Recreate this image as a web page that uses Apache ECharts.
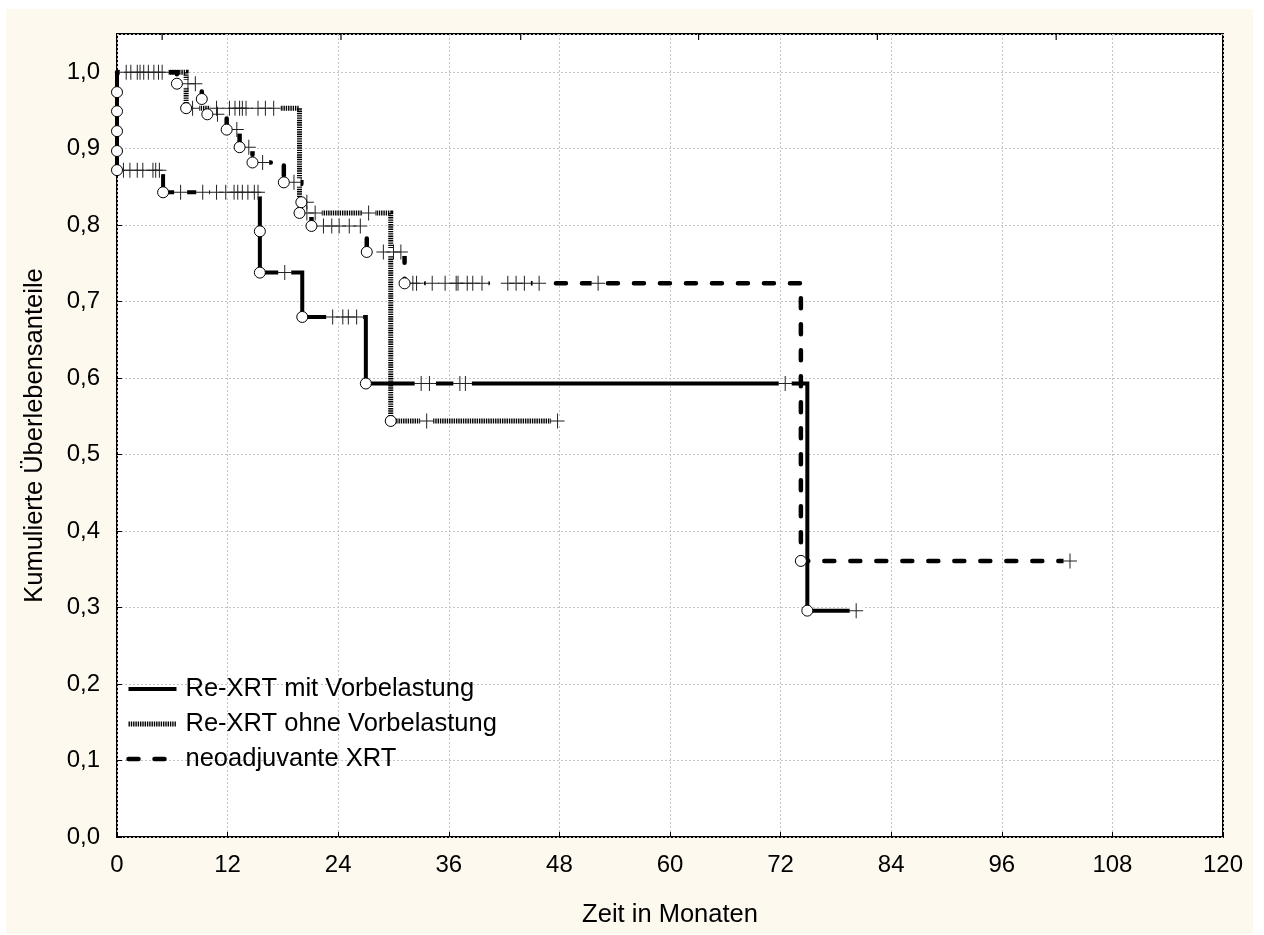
<!DOCTYPE html>
<html><head><meta charset="utf-8">
<script src="https://cdn.jsdelivr.net/npm/echarts@6/dist/echarts.min.js"></script>
<style>
html,body{margin:0;padding:0;background:#fff;}
#bg{position:absolute;left:6px;top:9px;width:1247px;height:925px;background:#fdf9ee;}
#chart{position:absolute;left:0;top:0;width:1264px;height:935px;}
</style></head><body>
<div id="bg"></div><div id="chart"></div>
<script>
// ---- data ----
const seriesNames = ['Re-XRT mit Vorbelastung', 'Re-XRT ohne Vorbelastung', 'neoadjuvante XRT'];
const xTitle = 'Zeit in Monaten';
const yTitle = 'Kumulierte Überlebensanteile';
const topTicks = [4.9, 24.3, 43.8, 63.1, 82.5, 101.9];

// events (circles): [month, survival after event]
const mitEvents = [[0,0.974],[0,0.949],[0,0.923],[0,0.897],[0,0.872],[5.0,0.843],[15.5,0.792],[15.5,0.738],[20.1,0.680],[27.0,0.593],[74.9,0.296]];
const mitCensored = [[0.7,0.872],[1.4,0.872],[2.2,0.872],[2.8,0.872],[3.9,0.872],[4.2,0.872],[4.6,0.872],
  [6.9,0.843],[9.3,0.843],[10.8,0.843],[11.8,0.843],[12.7,0.843],[13.1,0.843],[13.6,0.843],[14.2,0.843],[14.9,0.843],[15.3,0.843],
  [18.2,0.738],
  [23.4,0.680],[24.5,0.680],[25.1,0.680],[26.0,0.680],
  [33.0,0.593],[33.9,0.593],[37.2,0.593],[37.8,0.593],[72.5,0.593],
  [80.2,0.296]];

const ohneEvents = [[7.5,0.953],[19.8,0.816],[29.7,0.544]];
const ohneCensored = [[8.2,0.953],[10.8,0.953],[12.2,0.953],[12.8,0.953],[13.3,0.953],[13.6,0.953],[14.0,0.953],[15.3,0.953],[16.1,0.953],[17.0,0.953],
  [20.6,0.816],[21.5,0.816],[27.3,0.816],
  [33.6,0.544],[47.8,0.544]];

const neoEvents = [[6.5,0.985],[9.2,0.965],[9.8,0.945],[11.9,0.925],[13.3,0.902],[14.7,0.882],[18.1,0.856],[20.0,0.830],[21.1,0.799],[27.1,0.765],[31.2,0.724],[74.2,0.361]];
const neoCensored = [[1.0,1],[1.5,1],[2.2,1],[2.5,1],[2.9,1],[3.4,1],[4.0,1],[4.5,1],[4.9,1],
  [7.7,0.985],[8.5,0.985],
  [10.9,0.945],
  [13.0,0.925],
  [14.3,0.902],
  [15.8,0.882],
  [19.2,0.856],
  [20.6,0.830],
  [22.4,0.799],[23.3,0.799],[24.1,0.799],[25.2,0.799],[26.4,0.799],
  [28.9,0.765],[30.0,0.765],[30.8,0.765],
  [32.1,0.724],[32.5,0.724],[34.2,0.724],[35.6,0.724],[36.8,0.724],[37.0,0.724],[38.0,0.724],[38.6,0.724],[39.6,0.724],[42.4,0.724],[43.3,0.724],[44.2,0.724],[45.8,0.724],[52.2,0.724],
  [103.4,0.361]];

// ---- build ----
const FONT = "'Liberation Sans', Arial, Helvetica, sans-serif";
const Y_MAX = 1.05;
function kmLine(events, censored) {
  const last = censored.reduce((a, b) => (b[0] > a[0] ? b : a), censored[0]);
  return [[0, 1]].concat(events, [last]);
}
const groups = [
  {name: seriesNames[0], ev: mitEvents, ce: mitCensored, ls: {color:'#000', width:4, type:'solid', join:'miter', cap:'butt'}},
  {name: seriesNames[2], ev: neoEvents, ce: neoCensored, ls: {color:'#000', width:4.5, type:[10,16], join:'miter', cap:'round'}},
  {name: seriesNames[1], ev: ohneEvents, ce: ohneCensored, ls: {color:'#000', width:5, type:[1.4,0.9], join:'miter', cap:'butt'}}
];
const plusPath = 'path://M0,7H14V8H0Z M6.5,0H7.5V15H6.5Z';
const series = [];
groups.forEach(g => {
  series.push({type:'line', name:g.name, data:kmLine(g.ev, g.ce), step:'end', symbol:'none', showSymbol:false,
    itemStyle:{color:'#000'}, lineStyle:g.ls, z:2, silent:true});
});
groups.forEach(g => {
  series.push({type:'scatter', name:'_w'+g.name, data:g.ce, symbol:'rect', symbolSize:[13,8],
    itemStyle:{color:'#fff', opacity:1}, z:3, silent:true});
});
groups.forEach(g => {
  series.push({type:'scatter', name:'_p'+g.name, data:g.ce, symbol:plusPath, symbolSize:[14,15],
    itemStyle:{color:'#222', opacity:1}, z:4, silent:true});
});
groups.forEach(g => {
  series.push({type:'scatter', name:'_c'+g.name, data:g.ev, symbol:'circle', symbolSize:11,
    itemStyle:{color:'#fff', borderColor:'#000', borderWidth:1, opacity:1}, z:5, silent:true});
});
// small ticks hanging from the top frame
series.push({type:'scatter', name:'_top', data:topTicks.map(t => [t, Y_MAX]), symbol:'rect', symbolSize:[1.2,6],
  symbolOffset:[0,3], clip:false, itemStyle:{color:'#000', opacity:1}, z:6, silent:true});

const chart = echarts.init(document.getElementById('chart'), null, {renderer:'canvas'});
chart.setOption({
  animation:false,
  backgroundColor:'transparent',
  grid:{left:117, right:41, top:34, bottom:98, show:true, backgroundColor:'#fff', borderColor:'#000', borderWidth:2},
  legend:{orient:'vertical', left:121, top:671, itemWidth:48, itemHeight:14, itemGap:9,
    data:seriesNames, selectedMode:false,
    itemStyle:{opacity:0},
    lineStyle:{width:'inherit'},
    textStyle:{fontSize:25.5, fontFamily:FONT, color:'#000', padding:[0,0,0,4]}},
  xAxis:{
    type:'value', min:0, max:120, interval:12,
    name:xTitle, nameLocation:'middle', nameGap:65,
    nameTextStyle:{fontSize:25.5, fontFamily:FONT, color:'#000'},
    axisLine:{show:false},
    axisTick:{show:true, inside:true, length:5, lineStyle:{color:'#000', width:1}},
    axisLabel:{fontSize:24, fontFamily:FONT, color:'#000', margin:16},
    splitLine:{show:true, lineStyle:{color:'#c4c4c4', type:[2,2], width:1}}
  },
  yAxis:{
    type:'value', min:0, max:Y_MAX, interval:0.1,
    name:yTitle, nameLocation:'middle', nameGap:69, nameRotate:90,
    nameTextStyle:{fontSize:25.5, fontFamily:FONT, color:'#000'},
    axisLine:{show:false},
    axisTick:{show:true, inside:true, length:5, lineStyle:{color:'#000', width:1}},
    axisLabel:{fontSize:24, fontFamily:FONT, color:'#000', margin:17, showMaxLabel:false,
      formatter: v => (Math.abs(v*10 - Math.round(v*10)) < 1e-6 ? v.toFixed(1).replace('.', ',') : '')},
    splitLine:{show:true, lineStyle:{color:'#c4c4c4', type:[2,2], width:1}}
  },
  series:series
});
</script>
</body></html>
